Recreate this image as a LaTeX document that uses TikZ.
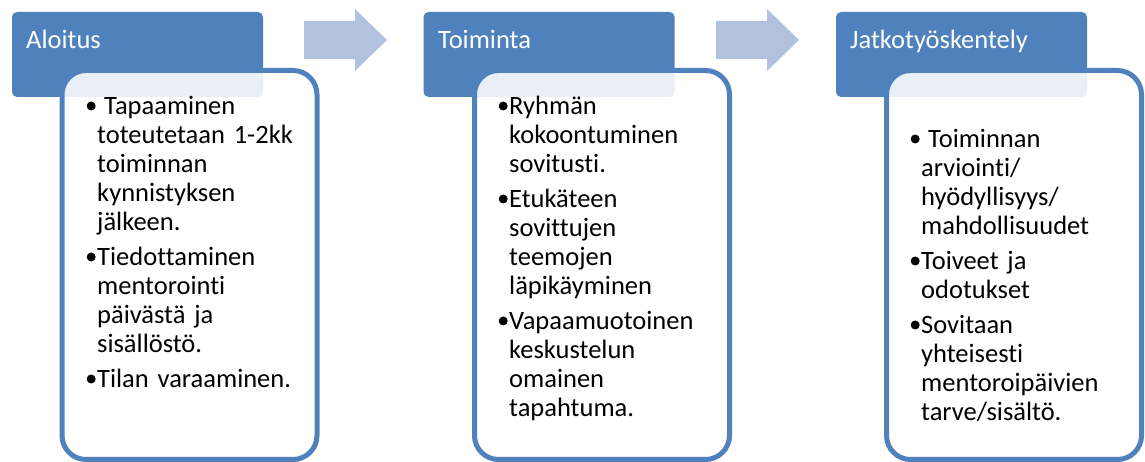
\documentclass[tikz,border=0pt]{standalone}
\usepackage{pict2e}
\usepackage{fontspec}
\setmainfont{Carlito}[Ligatures=NoCommon]
\definecolor{hdrblue}{HTML}{4F81BD}
\definecolor{flowblue}{HTML}{B2C1DE}
\newcommand\brk{\unskip\hfil\break}
\newcommand\bulmark{\begin{picture}(11,0)\put(5,9){\circle*{9}}\end{picture}}
\newcommand\bul[1]{\hangindent=11pt\hangafter=1\noindent\bulmark#1\par\setlength{\parskip}{6pt}}

\begin{document}
\begin{tikzpicture}[x=1pt,y=1pt]
	\tikzstyle{hdr}=[rectangle,fill=hdrblue,rounded corners=5pt,minimum width=251pt,minimum height=85pt,inner sep=0pt]
	\tikzstyle{hdrtext}=[anchor=base west,inner sep=0pt,text=white,font=\fontsize{26.5}{29}\selectfont]
	\tikzstyle{card}=[rectangle,draw=hdrblue,line width=5pt,fill=white,fill opacity=0.88,rounded corners=24pt,minimum width=255pt,minimum height=389pt,inner sep=0pt]
	\tikzstyle{items}=[anchor=base west,inner sep=0pt,text width=225pt,font=\fontsize{26.5}{29}\selectfont]
	\tikzstyle{flow}=[fill=flowblue]

	\useasboundingbox (0,0) rectangle (1145,462);

	\node[hdr](hA) at (137.5,407.5) {};
	\node[hdr](hB) at (549,407.5) {};
	\node[hdr](hC) at (961.5,407.5) {};

	\node[card](cA) at (189.5,197) {};
	\node[card](cB) at (602,197) {};
	\node[card](cC) at (1014,197) {};

	\node[hdrtext](tA) at (26,413) {Aloitus};
	\node[hdrtext](tB) at (438,413) {Toiminta};
	\node[hdrtext](tC) at (850,413) {Jatkotyöskentely};

	\node[items](iA) at (86,347) {%
		\bul{\hspace{7pt}Tapaaminen\brk toteutetaan 1-2kk\brk toiminnan\brk kynnistyksen\brk jälkeen.}
		\bul{Tiedottaminen\brk mentorointi\brk päivästä ja\brk sisällöstö.}
		\bul{Tilan varaaminen.}
	};
	\node[items](iB) at (498,347) {%
		\bul{Ryhmän\brk kokoontuminen\brk sovitusti.}
		\bul{Etukäteen\brk sovittujen\brk teemojen\brk läpikäyminen}
		\bul{Vapaamuotoinen\brk keskustelun\brk omainen\brk tapahtuma.}
	};
	\node[items](iC) at (910,314) {%
		\bul{\hspace{7pt}Toiminnan\brk arviointi/\brk hyödyllisyys/\brk mahdollisuudet}
		\bul{Toiveet ja\brk odotukset}
		\bul{Sovitaan\brk yhteisesti\brk mentoroipäivien\brk tarve/sisältö.}
	};

	\foreach \x in {304,716}
		\fill[flow] (\x,403) -- ++(51,0) -- ++(0,-12) -- ++(32,31) -- ++(-32,31) -- ++(0,-12) -- ++(-51,0) -- cycle;
\end{tikzpicture}
\end{document}
